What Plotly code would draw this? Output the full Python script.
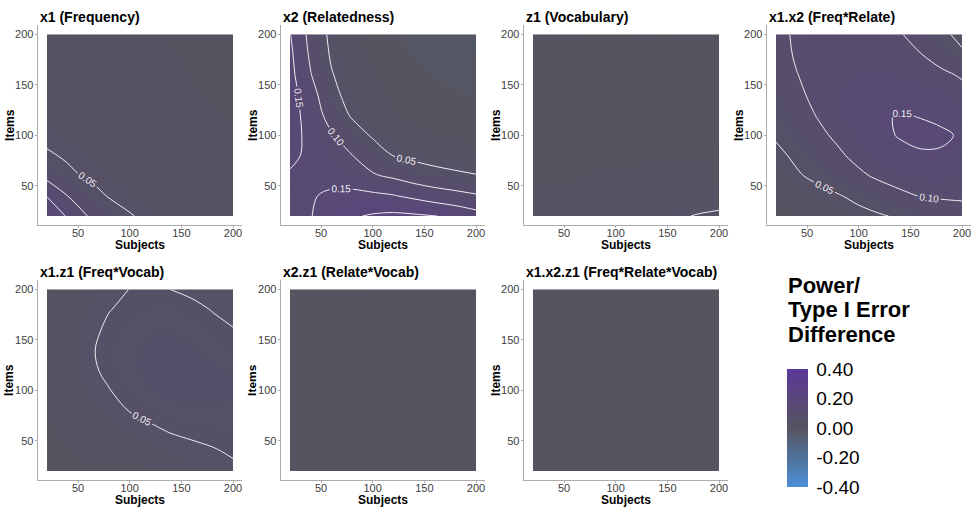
import plotly.graph_objects as go

# ---------------- data ----------------
SUBJECTS = [20, 40, 60, 80, 100, 120, 140, 160, 180, 200]
ITEMS = [20, 40, 60, 80, 100, 120, 140, 160, 180, 200]

PANEL_TITLES = ["x1 (Frequency)", "x2 (Relatedness)", "z1 (Vocabulary)", "x1.x2 (Freq*Relate)",
                "x1.z1 (Freq*Vocab)", "x2.z1 (Relate*Vocab)", "x1.x2.z1 (Freq*Relate*Vocab)"]
X_TITLE = "Subjects"
Y_TITLE = "Items"

# rows = Items (20 -> 200), columns = Subjects (20 -> 200)
x1_freq = [
    [0.190, 0.145, 0.098, 0.075, 0.053, 0.040, 0.030, 0.025, 0.020, 0.015],
    [0.148, 0.100, 0.070, 0.047, 0.037, 0.030, 0.024, 0.020, 0.017, 0.014],
    [0.085, 0.058, 0.045, 0.036, 0.030, 0.025, 0.020, 0.017, 0.015, 0.012],
    [0.055, 0.045, 0.036, 0.030, 0.025, 0.021, 0.018, 0.015, 0.013, 0.011],
    [0.040, 0.034, 0.029, 0.025, 0.021, 0.018, 0.016, 0.014, 0.012, 0.011],
    [0.030, 0.027, 0.024, 0.021, 0.018, 0.016, 0.014, 0.012, 0.011, 0.010],
    [0.025, 0.023, 0.020, 0.018, 0.016, 0.014, 0.013, 0.011, 0.010, 0.009],
    [0.020, 0.019, 0.017, 0.016, 0.014, 0.013, 0.012, 0.010, 0.009, 0.008],
    [0.018, 0.017, 0.015, 0.014, 0.013, 0.012, 0.011, 0.010, 0.009, 0.008],
    [0.015, 0.015, 0.014, 0.013, 0.012, 0.011, 0.010, 0.009, 0.008, 0.007],
]
x2_relate = [
    [0.120, 0.148, 0.175, 0.195, 0.205, 0.210, 0.207, 0.202, 0.188, 0.170],
    [0.125, 0.145, 0.160, 0.165, 0.160, 0.153, 0.140, 0.125, 0.115, 0.105],
    [0.145, 0.135, 0.130, 0.120, 0.105, 0.092, 0.075, 0.065, 0.058, 0.052],
    [0.160, 0.140, 0.120, 0.101, 0.075, 0.049, 0.040, 0.033, 0.028, 0.025],
    [0.170, 0.135, 0.105, 0.072, 0.045, 0.030, 0.018, 0.010, 0.005, 0.002],
    [0.170, 0.130, 0.080, 0.045, 0.025, 0.012, 0.003, -0.003, -0.006, -0.008],
    [0.170, 0.120, 0.062, 0.035, 0.018, 0.006, -0.002, -0.007, -0.010, -0.012],
    [0.165, 0.102, 0.053, 0.027, 0.010, 0.000, -0.008, -0.012, -0.015, -0.017],
    [0.160, 0.092, 0.045, 0.020, 0.005, -0.005, -0.012, -0.016, -0.018, -0.020],
    [0.152, 0.085, 0.040, 0.015, 0.000, -0.010, -0.015, -0.020, -0.020, -0.022],
]
z1_vocab = [
    [0.012, 0.012, 0.013, 0.015, 0.018, 0.022, 0.030, 0.045, 0.053, 0.058],
    [0.011, 0.011, 0.012, 0.013, 0.014, 0.016, 0.019, 0.022, 0.026, 0.030],
    [0.010, 0.010, 0.010, 0.011, 0.011, 0.012, 0.013, 0.014, 0.015, 0.016],
    [0.010, 0.009, 0.009, 0.009, 0.009, 0.009, 0.009, 0.009, 0.009, 0.009],
    [0.009, 0.009, 0.008, 0.007, 0.006, 0.005, 0.005, 0.004, 0.004, 0.004],
    [0.009, 0.008, 0.007, 0.006, 0.004, 0.003, 0.002, 0.001, 0.000, 0.000],
    [0.008, 0.007, 0.006, 0.004, 0.003, 0.001, 0.000, -0.002, -0.003, -0.003],
    [0.008, 0.007, 0.005, 0.003, 0.001, 0.000, -0.002, -0.004, -0.005, -0.005],
    [0.008, 0.006, 0.004, 0.002, 0.000, -0.002, -0.004, -0.005, -0.006, -0.006],
    [0.007, 0.006, 0.004, 0.002, 0.000, -0.002, -0.004, -0.006, -0.007, -0.007],
]
x1x2_freq_relate = [
    [0.000, 0.010, 0.020, 0.030, 0.038, 0.046, 0.055, 0.065, 0.075, 0.085],
    [0.015, 0.025, 0.035, 0.047, 0.060, 0.075, 0.090, 0.102, 0.105, 0.105],
    [0.030, 0.045, 0.060, 0.075, 0.092, 0.108, 0.120, 0.125, 0.125, 0.120],
    [0.040, 0.058, 0.075, 0.093, 0.112, 0.128, 0.138, 0.145, 0.145, 0.135],
    [0.055, 0.072, 0.090, 0.108, 0.125, 0.140, 0.153, 0.160, 0.157, 0.145],
    [0.065, 0.082, 0.102, 0.120, 0.135, 0.146, 0.152, 0.148, 0.140, 0.128],
    [0.072, 0.092, 0.110, 0.122, 0.130, 0.135, 0.136, 0.132, 0.125, 0.112],
    [0.078, 0.099, 0.112, 0.120, 0.123, 0.123, 0.120, 0.115, 0.107, 0.096],
    [0.085, 0.104, 0.112, 0.115, 0.114, 0.110, 0.104, 0.101, 0.085, 0.058],
    [0.090, 0.105, 0.110, 0.112, 0.110, 0.106, 0.102, 0.088, 0.062, 0.035],
]
x1z1_freq_vocab = [
    [0.003, 0.006, 0.010, 0.014, 0.018, 0.023, 0.028, 0.034, 0.040, 0.045],
    [0.005, 0.010, 0.015, 0.020, 0.025, 0.031, 0.037, 0.043, 0.048, 0.053],
    [0.008, 0.015, 0.022, 0.030, 0.037, 0.045, 0.052, 0.056, 0.058, 0.059],
    [0.010, 0.020, 0.030, 0.040, 0.051, 0.058, 0.062, 0.064, 0.064, 0.063],
    [0.013, 0.026, 0.038, 0.049, 0.060, 0.066, 0.069, 0.070, 0.069, 0.067],
    [0.015, 0.030, 0.044, 0.056, 0.064, 0.069, 0.070, 0.070, 0.068, 0.065],
    [0.015, 0.030, 0.046, 0.058, 0.064, 0.068, 0.069, 0.067, 0.063, 0.058],
    [0.014, 0.027, 0.042, 0.055, 0.061, 0.065, 0.065, 0.062, 0.057, 0.051],
    [0.012, 0.024, 0.036, 0.049, 0.056, 0.060, 0.060, 0.056, 0.049, 0.043],
    [0.010, 0.020, 0.030, 0.040, 0.0505, 0.053, 0.0498, 0.045, 0.040, 0.035],
]
x2z1_relate_vocab = [
    [0.006, 0.006, 0.005, 0.005, 0.005, 0.005, 0.005, 0.005, 0.004, 0.004],
    [0.006, 0.006, 0.005, 0.005, 0.005, 0.005, 0.005, 0.004, 0.004, 0.004],
    [0.006, 0.005, 0.005, 0.005, 0.005, 0.005, 0.004, 0.004, 0.004, 0.004],
    [0.005, 0.005, 0.005, 0.005, 0.005, 0.004, 0.004, 0.004, 0.004, 0.004],
    [0.005, 0.005, 0.005, 0.005, 0.004, 0.004, 0.004, 0.004, 0.004, 0.003],
    [0.005, 0.005, 0.005, 0.004, 0.004, 0.004, 0.004, 0.004, 0.003, 0.003],
    [0.005, 0.005, 0.004, 0.004, 0.004, 0.004, 0.004, 0.003, 0.003, 0.003],
    [0.005, 0.004, 0.004, 0.004, 0.004, 0.004, 0.003, 0.003, 0.003, 0.003],
    [0.004, 0.004, 0.004, 0.004, 0.004, 0.003, 0.003, 0.003, 0.003, 0.003],
    [0.004, 0.004, 0.004, 0.004, 0.003, 0.003, 0.003, 0.003, 0.003, 0.002],
]
x1x2z1_freq_relate_vocab = [
    [0.004, 0.004, 0.004, 0.004, 0.004, 0.004, 0.004, 0.004, 0.004, 0.004],
    [0.004, 0.004, 0.004, 0.004, 0.004, 0.004, 0.004, 0.004, 0.004, 0.004],
    [0.004, 0.004, 0.004, 0.004, 0.004, 0.004, 0.004, 0.004, 0.003, 0.003],
    [0.004, 0.004, 0.004, 0.004, 0.004, 0.004, 0.003, 0.003, 0.003, 0.003],
    [0.004, 0.004, 0.004, 0.004, 0.003, 0.003, 0.003, 0.003, 0.003, 0.003],
    [0.004, 0.004, 0.004, 0.003, 0.003, 0.003, 0.003, 0.003, 0.003, 0.003],
    [0.004, 0.004, 0.003, 0.003, 0.003, 0.003, 0.003, 0.003, 0.003, 0.003],
    [0.004, 0.003, 0.003, 0.003, 0.003, 0.003, 0.003, 0.003, 0.003, 0.002],
    [0.003, 0.003, 0.003, 0.003, 0.003, 0.003, 0.003, 0.003, 0.002, 0.002],
    [0.003, 0.003, 0.003, 0.003, 0.003, 0.003, 0.003, 0.002, 0.002, 0.002],
]
PANEL_VALUES = [x1_freq, x2_relate, z1_vocab, x1x2_freq_relate,
                x1z1_freq_vocab, x2z1_relate_vocab, x1x2z1_freq_relate_vocab]

AXIS_TICKS = [50, 100, 150, 200]
CBAR_TICKS = [-0.4, -0.2, 0.0, 0.2, 0.4]
CBAR_TICKTEXT = ["-0.40", "-0.20", "0.00", "0.20", "0.40"]
LEGEND_TITLE_LINES = ["Power/", "Type I Error", "Difference"]

# ---------------- layout geometry ----------------
W, H = 978, 507
FONT = "Liberation Sans, Arial, sans-serif"
col_left_px = [37.7, 280.7, 523.7, 766.7]
col_width_px = 204.6
row_top_px = [25.2, 280.2]
row_height_px = 200.0
LINE_COL = "#ababab"

fig = go.Figure()
layout_axes = {}
annotations = []

for i, (title, z) in enumerate(zip(PANEL_TITLES, PANEL_VALUES)):
    r, c = divmod(i, 4)
    n = "" if i == 0 else str(i + 1)
    x0, x1 = col_left_px[c], col_left_px[c] + col_width_px
    y0, y1 = row_top_px[r], row_top_px[r] + row_height_px
    xd = [x0 / W, x1 / W]
    yd = [1 - y1 / H, 1 - y0 / H]
    fig.add_trace(go.Contour(
        x=SUBJECTS, y=ITEMS, z=z, coloraxis="coloraxis",
        xaxis="x" + n, yaxis="y" + n,
        contours=dict(start=0.05, end=0.30, size=0.05, coloring="heatmap",
                      showlabels=True,
                      labelfont=dict(size=10, color="rgba(255,255,255,0.92)", family=FONT),
                      labelformat=".2f"),
        line=dict(color="rgba(255,255,255,0.9)", width=1, smoothing=1.0),
        hoverinfo="skip",
    ))
    ax_common = dict(range=[11, 209], tickvals=AXIS_TICKS, showgrid=False, zeroline=False,
                     showline=True, linecolor=LINE_COL, linewidth=1.2,
                     ticks="outside", ticklen=2, tickcolor=LINE_COL, tickwidth=1,
                     tickfont=dict(family=FONT, size=11, color="#404040"))
    layout_axes["xaxis" + n] = dict(domain=xd, anchor="y" + n, ticklabelstandoff=-5,
                                    **ax_common)
    layout_axes["yaxis" + n] = dict(domain=yd, anchor="x" + n, ticklabelstandoff=-1,
                                    **ax_common)
    # panel title
    annotations.append(dict(text="<b>" + title + "</b>", x=x0 / W, y=1 - (y0 - 8.5) / H,
                            xref="paper", yref="paper", xanchor="left", yanchor="middle",
                            showarrow=False, font=dict(family=FONT, size=14, color="black")))
    # axis titles
    annotations.append(dict(text="<b>" + X_TITLE + "</b>", x=(x0 + x1) / 2 / W,
                            y=1 - (y1 + 19.5) / H, xref="paper", yref="paper",
                            xanchor="center", yanchor="middle", showarrow=False,
                            font=dict(family=FONT, size=12, color="black")))
    annotations.append(dict(text="<b>" + Y_TITLE + "</b>", x=(x0 - 28) / W,
                            y=1 - (y0 + y1) / 2 / H, xref="paper", yref="paper",
                            xanchor="center", yanchor="middle", textangle=-90,
                            showarrow=False, font=dict(family=FONT, size=12, color="black")))

for k, line in enumerate(LEGEND_TITLE_LINES):
    annotations.append(dict(text="<b>" + line + "</b>", x=786 / W, y=1 - (285 + 24.5 * k) / H,
                            xref="paper", yref="paper", xanchor="left", yanchor="middle",
                            showarrow=False, font=dict(family=FONT, size=22, color="black")))

fig.update_layout(
    width=W, height=H, margin=dict(l=0, r=0, t=0, b=0, pad=0),
    paper_bgcolor="white", plot_bgcolor="white", showlegend=False,
    font=dict(family=FONT),
    coloraxis=dict(
        cmin=-0.4, cmax=0.4,
        colorscale=[[0.0, "#4b8fd6"], [0.5, "#55545f"], [1.0, "#5c3898"]],
        colorbar=dict(x=787 / W, xanchor="left", y=1 - 428 / H, yanchor="middle",
                      len=118, lenmode="pixels", thickness=21, thicknessmode="pixels",
                      outlinewidth=0, xpad=0, ypad=0,
                      ticks="outside", tickcolor="white", ticklen=5, tickwidth=1,
                      tickvals=CBAR_TICKS, ticktext=CBAR_TICKTEXT,
                      tickfont=dict(family=FONT, size=19, color="black")),
    ),
    annotations=annotations,
    **layout_axes,
)

fig.write_html("out.html")
